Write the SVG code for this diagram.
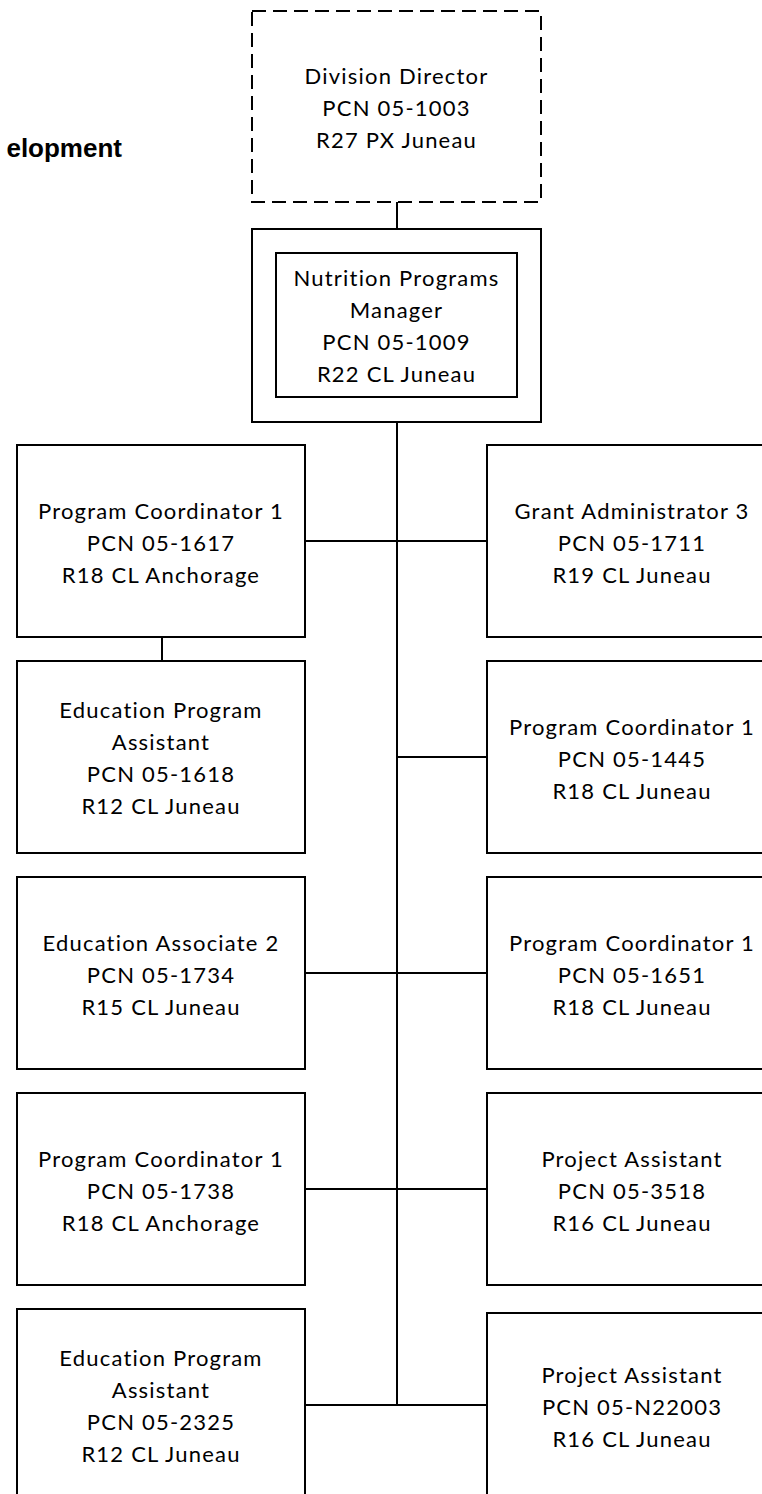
<svg xmlns="http://www.w3.org/2000/svg" width="762" height="1494" viewBox="0 0 762 1494">
  <style>
    .box { fill: #ffffff; stroke: #000000; stroke-width: 2; }
    .dashed { stroke-dasharray: 14 7; }
    .link { fill: none; stroke: #000000; stroke-width: 2; }
    .label { font-family: Lato, "Liberation Sans", sans-serif; font-size: 22px; fill: #000000; text-anchor: middle; letter-spacing: 1.2px; }
    .heading { font-family: "Liberation Sans", Arial, sans-serif; font-weight: bold; font-size: 26px; fill: #000000; text-anchor: end; }
  </style>

  <rect width="762" height="1494" fill="#ffffff"/>

  <text class="heading" x="122" y="157">elopment</text>

  <!-- connectors -->
  <g id="connectors">
    <line class="link" x1="397" y1="202" x2="397" y2="229"/>
    <line class="link" x1="397" y1="422" x2="397" y2="1405"/>
    <line class="link" x1="305" y1="541" x2="487" y2="541"/>
    <line class="link" x1="162" y1="637" x2="162" y2="661"/>
    <line class="link" x1="397" y1="757" x2="487" y2="757"/>
    <line class="link" x1="305" y1="973" x2="487" y2="973"/>
    <line class="link" x1="305" y1="1189" x2="487" y2="1189"/>
    <line class="link" x1="305" y1="1405" x2="487" y2="1405"/>
  </g>

  <g id="division-director">
    <rect class="box dashed" x="252" y="11" width="289" height="191"/>
    <text class="label"><tspan x="396.5" y="84">Division Director</tspan><tspan x="396.5" dy="32">PCN 05-1003</tspan><tspan x="396.5" dy="32">R27 PX Juneau</tspan></text>
  </g>

  <g id="nutrition-programs-manager">
    <rect class="box" x="252" y="229" width="289" height="193"/>
    <rect class="box" x="276" y="253" width="241" height="144"/>
    <text class="label"><tspan x="396.5" y="286">Nutrition Programs</tspan><tspan x="396.5" dy="32">Manager</tspan><tspan x="396.5" dy="32">PCN 05-1009</tspan><tspan x="396.5" dy="32">R22 CL Juneau</tspan></text>
  </g>

  <g id="pc1-1617">
    <rect class="box" x="17" y="445" width="288" height="192"/>
    <text class="label"><tspan x="161" y="519">Program Coordinator 1</tspan><tspan x="161" dy="32">PCN 05-1617</tspan><tspan x="161" dy="32">R18 CL Anchorage</tspan></text>
  </g>

  <g id="ga3-1711">
    <rect class="box" x="487" y="445" width="290" height="192"/>
    <text class="label"><tspan x="632" y="519">Grant Administrator 3</tspan><tspan x="632" dy="32">PCN 05-1711</tspan><tspan x="632" dy="32">R19 CL Juneau</tspan></text>
  </g>

  <g id="epa-1618">
    <rect class="box" x="17" y="661" width="288" height="192"/>
    <text class="label"><tspan x="161" y="718">Education Program</tspan><tspan x="161" dy="32">Assistant</tspan><tspan x="161" dy="32">PCN 05-1618</tspan><tspan x="161" dy="32">R12 CL Juneau</tspan></text>
  </g>

  <g id="pc1-1445">
    <rect class="box" x="487" y="661" width="290" height="192"/>
    <text class="label"><tspan x="632" y="735">Program Coordinator 1</tspan><tspan x="632" dy="32">PCN 05-1445</tspan><tspan x="632" dy="32">R18 CL Juneau</tspan></text>
  </g>

  <g id="ea2-1734">
    <rect class="box" x="17" y="877" width="288" height="192"/>
    <text class="label"><tspan x="161" y="951">Education Associate 2</tspan><tspan x="161" dy="32">PCN 05-1734</tspan><tspan x="161" dy="32">R15 CL Juneau</tspan></text>
  </g>

  <g id="pc1-1651">
    <rect class="box" x="487" y="877" width="290" height="192"/>
    <text class="label"><tspan x="632" y="951">Program Coordinator 1</tspan><tspan x="632" dy="32">PCN 05-1651</tspan><tspan x="632" dy="32">R18 CL Juneau</tspan></text>
  </g>

  <g id="pc1-1738">
    <rect class="box" x="17" y="1093" width="288" height="192"/>
    <text class="label"><tspan x="161" y="1167">Program Coordinator 1</tspan><tspan x="161" dy="32">PCN 05-1738</tspan><tspan x="161" dy="32">R18 CL Anchorage</tspan></text>
  </g>

  <g id="pa-3518">
    <rect class="box" x="487" y="1093" width="290" height="192"/>
    <text class="label"><tspan x="632" y="1167">Project Assistant</tspan><tspan x="632" dy="32">PCN 05-3518</tspan><tspan x="632" dy="32">R16 CL Juneau</tspan></text>
  </g>

  <g id="epa-2325">
    <rect class="box" x="17" y="1309" width="288" height="192"/>
    <text class="label"><tspan x="161" y="1366">Education Program</tspan><tspan x="161" dy="32">Assistant</tspan><tspan x="161" dy="32">PCN 05-2325</tspan><tspan x="161" dy="32">R12 CL Juneau</tspan></text>
  </g>

  <g id="pa-n22003">
    <rect class="box" x="487" y="1313" width="290" height="192"/>
    <text class="label"><tspan x="632" y="1383">Project Assistant</tspan><tspan x="632" dy="32">PCN 05-N22003</tspan><tspan x="632" dy="32">R16 CL Juneau</tspan></text>
  </g>
</svg>
